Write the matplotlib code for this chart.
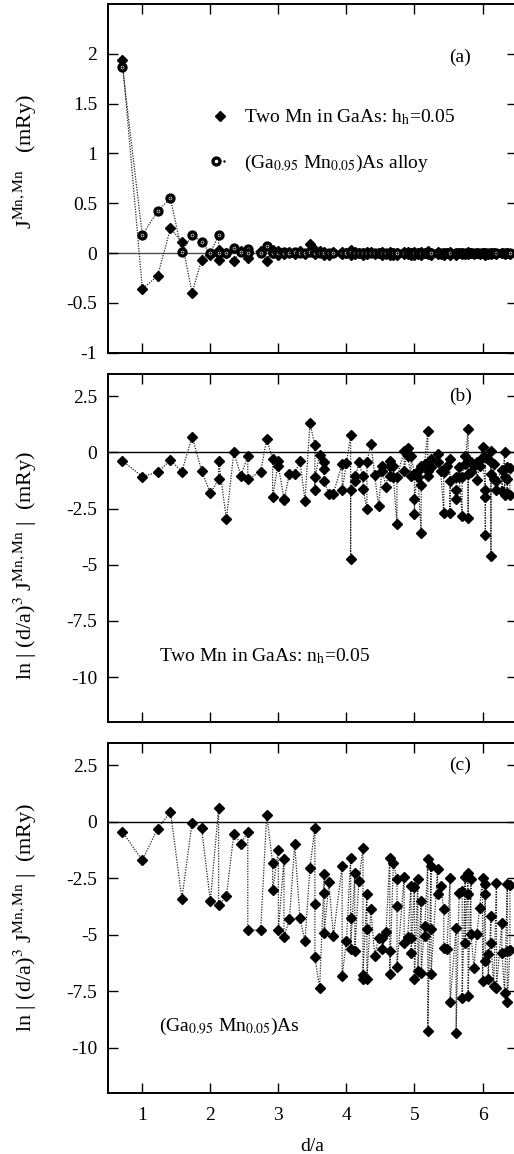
import matplotlib.pyplot as plt
from matplotlib.lines import Line2D
from matplotlib.legend_handler import HandlerTuple

plt.rcParams['font.family'] = ['Liberation Serif', 'DejaVu Serif']
plt.rcParams['mathtext.fontset'] = 'stix'
plt.rcParams['font.size'] = 14

# neighbour shells d/a
shells = [0.707, 1.0, 1.225, 1.414, 1.581, 1.732, 1.871, 2.0, 2.121, 2.236,
          2.345, 2.449, 2.55, 2.739, 2.828, 2.915, 3.0, 3.082, 3.162, 3.24,
          3.317, 3.391, 3.464, 3.536, 3.606, 3.674, 3.742, 3.808, 3.937, 4.0,
          4.062, 4.123, 4.183, 4.243, 4.301, 4.359, 4.416, 4.472, 4.528, 4.583,
          4.637, 4.69, 4.743, 4.848, 4.899, 4.95, 5.0, 5.05, 5.099, 5.148,
          5.196, 5.244, 5.339, 5.385, 5.431, 5.477, 5.523, 5.612, 5.657, 5.701,
          5.745, 5.788, 5.831, 5.874, 5.916, 5.958, 6.0, 6.042, 6.083, 6.124,
          6.164, 6.205, 6.285, 6.325, 6.364, 6.403]

# (a) J^{Mn,Mn} in mRy, one list per shell
j_two_mn = [[1.94], [-0.36], [-0.23], [0.25], [0.11], [-0.40], [-0.07], [-0.02], [-0.07, 0.03], [0.0],
            [-0.08], [0.02], [-0.05, 0.01], [0.02], [-0.08], [0.03, 0.0], [-0.02, 0.02], [0.0, -0.01], [0.01], [-0.01],
            [0.02], [-0.01], [0.09], [0.03, -0.01, 0.01], [0.02], [0.01, -0.015, 0.0], [-0.015], [0.01], [0.01, -0.01], [0.0],
            [0.03, -0.015, 0.0], [0.01, -0.01], [0.005], [-0.015, 0.005], [-0.01, 0.01], [0.015], [-0.01], [0.005], [0.01, -0.015], [-0.01],
            [0.01, -0.015, 0.005], [0.005, -0.015], [0.0, -0.015], [0.01, -0.01], [0.015, -0.01], [0.005, -0.015], [0.01, -0.015], [0.005, -0.01], [0.01, -0.015], [0.005],
            [0.02, -0.01], [0.005, -0.015], [0.01, -0.01], [-0.01], [0.005, -0.015], [0.005], [0.01, -0.015], [0.005, -0.015], [0.0], [0.005, -0.01],
            [-0.01], [0.015, -0.01], [0.005], [-0.01], [0.005], [-0.01], [0.005], [0.005, -0.015], [-0.005], [0.005, -0.01],
            [0.0], [-0.01], [0.005], [-0.01], [0.0], [-0.005]]
j_alloy = [[1.87], [0.18], [0.42], [0.55], [0.01], [0.18], [0.11], [0.0], [0.18, 0.0], [0.0],
           [0.05], [0.01], [0.04, 0.0], [0.0], [0.07], [0.01, 0.0], [0.01, 0.0], [0.01, 0.0], [0.0], [0.01],
           [0.0], [0.0], [0.01], [0.01, 0.0], [0.0], [0.005], [0.0], [0.0], [0.005], [0.0],
           [0.01], [0.0], [0.0], [0.005], [0.0], [0.0], [0.005], [0.0], [0.0], [0.0],
           [0.005], [0.0], [0.0], [0.005], [0.0], [0.0], [0.0], [0.005], [0.0], [0.0],
           [0.005], [0.0], [0.0], [0.0], [0.005], [0.0], [0.0], [0.0], [0.0], [0.0],
           [0.0], [0.005], [0.0], [0.0], [0.0], [0.0], [0.0], [0.0], [0.0], [0.0],
           [0.0], [0.0], [0.0], [0.0], [0.0], [0.0]]

# (b) ln|(d/a)^3 J| two Mn in GaAs
ln_two_mn = [[-0.37], [-1.07], [-0.88], [-0.34], [-0.85], [0.71], [-0.81], [-1.81], [-1.19, -0.38], [-2.97],
             [0.0], [-1.03], [-0.17, -1.19], [-0.86], [0.6], [-0.3, -1.99], [-0.4, -0.62], [-2.05, -2.12], [-0.96], [-0.96],
             [-0.38], [-2.14], [1.3], [0.34, -1.65, -1.1], [-0.12], [-0.41, -0.74, -1.28], [-1.85], [-1.83], [-0.5, -1.69], [-0.49],
             [0.78, -4.74, -1.65], [-1.03, -1.25], [-0.44], [-1.03, -1.62], [-2.53, -0.44], [0.4], [-1.0], [-2.4], [-0.59, -0.81], [-1.54],
             [-0.37, -1.03, -0.59], [-0.59, -1.1], [-3.19, -1.1], [0.07, -0.81], [0.22, -0.15], [-1.03, -0.15], [-0.96, -2.72, -2.06], [-0.81, -1.1], [-3.6, -1.47, -0.59], [-0.51],
             [0.96, -1.03, -0.81], [-0.29, -0.66], [-0.07, -0.44], [-0.81], [-2.69, -0.88], [-0.6], [-0.29, -2.69, -1.25], [-2.06, -1.69, -1.1], [-0.63, -1.1], [-2.84, -1.1],
             [-0.15, -0.5], [1.03, -2.9, -0.96, -0.37], [-0.44, -0.88], [-0.6], [-0.44, -1.22], [-0.6], [0.25, -0.22], [-1.69, -3.68, -1.99, -0.22], [-0.3], [0.07, -4.6, -0.96, -0.44],
             [-0.5, -1.2], [-1.69, -1.25], [-0.8, -1.7], [0.04, -1.91, -1.1], [-0.65, -1.8, -1.2], [-0.7, -1.9]]

# (c) ln|(d/a)^3 J| (Ga,Mn)As alloy
ln_alloy = [[-0.44], [-1.71], [-0.3], [0.44], [-3.41], [-0.04], [-0.27], [-3.51], [0.59, -3.7], [-3.29],
            [-0.53], [-0.97], [-0.46, -4.79], [-4.81], [0.31], [-1.81, -3.04], [-1.24, -4.81], [-1.67, -5.1], [-4.32], [-1.0],
            [-4.28], [-5.28], [-2.04], [-0.27, -3.63, -5.97], [-7.37], [-2.33, -3.14, -4.91], [-2.67], [-5.06], [-1.96, -6.84], [-5.28],
            [-1.59, -4.25, -5.62], [-2.26, -5.72], [-2.63], [-1.18, -6.98, -6.78], [-3.22, -4.76, -6.98], [-3.88], [-5.94], [-5.13], [-5.13, -5.65], [-4.87],
            [-1.59, -5.72, -6.75], [-1.81], [-2.55, -3.73, -6.44], [-2.45, -5.35], [-5.1], [-2.85, -5.13, -5.8], [-2.89, -6.95], [-2.55, -6.6], [-3.51, -6.68], [-4.62, -5.06],
            [-1.67, -9.26], [-1.96, -4.76, -6.75], [-2.11, -3.19], [-2.85], [-3.88, -5.57], [-5.65], [-2.48, -8.0], [-4.72, -9.34], [-3.14], [-3.07, -7.79],
            [-2.45, -5.35], [-2.26, -3.22, -7.72], [-2.55, -4.99], [-6.46], [-4.99], [-3.81], [-2.48, -7.05], [-2.77, -3.22, -6.17], [-5.87, -6.98], [-4.17, -5.35],
            [-7.27], [-2.7, -7.35], [-4.47, -5.8], [-7.57], [-2.77, -5.72, -8.0], [-5.7, -2.8]]


def flat(vals):
    xs, ys = [], []
    for d, v in zip(shells, vals):
        for y in v:
            xs.append(d)
            ys.append(y)
    return xs, ys


dots = (0, (1, 1.1))
ms_d = 5
ms_o, mew_o = 5.0, 2.4
fig = plt.figure(figsize=(5.14, 11.54), dpi=100)
axa = fig.add_axes([0.2107, 0.6944, 0.7942, 0.3022])
axb = fig.add_axes([0.2107, 0.3744, 0.7942, 0.3016])
axc = fig.add_axes([0.2107, 0.0531, 0.7942, 0.3033])

# (a)
x, y = flat(j_two_mn)
axa.plot(x, y, color='0.15', linestyle=dots, linewidth=0.9,
         marker='D', markersize=ms_d, markerfacecolor='k', markeredgecolor='k', zorder=3)
x, y = flat(j_alloy)
axa.plot(x, y, color='0.15', linestyle=dots, linewidth=0.9,
         marker='o', markersize=ms_o, markerfacecolor='white', markeredgecolor='k',
         markeredgewidth=mew_o, zorder=4)
axa.plot(x, y, linestyle='none', marker='.', markersize=1.5, color='k', zorder=5)
axa.axhline(0, color='0.3', linewidth=1, zorder=1)
axa.set_ylim(-1, 2.5)
axa.set_yticks([-1, -0.5, 0, 0.5, 1, 1.5, 2])
axa.set_yticklabels(['-1', '-0.5', '0', '0.5', '1', '1.5', '2'])
axa.set_ylabel(r'J$^{\mathrm{Mn,Mn}}$   (mRy)', fontsize=16)
axa.yaxis.set_label_coords(-0.17, 0.55)
axa.text(0.862, 0.848, '(a)', transform=axa.transAxes, ha='center', va='center')

h1 = Line2D([], [], marker='D', linestyle='none', color='k', markersize=ms_d)
h2 = Line2D([], [], marker='o', linestyle='none', markerfacecolor='white',
            markeredgecolor='k', markeredgewidth=mew_o, markersize=ms_o)
h3 = Line2D([], [], marker='.', linestyle='none', color='k', markersize=1.5)
axa.legend([h1, (h2, h3)],
           [r'Two Mn in GaAs: h$_{\mathrm{h}}$=0.05', r'(Ga$_{0.95}$ Mn$_{0.05}$)As alloy'],
           handler_map={tuple: HandlerTuple(ndivide=None)},
           loc='center left', bbox_to_anchor=(0.255, 0.6085), frameon=False,
           borderpad=0, borderaxespad=0, handlelength=0.8, handletextpad=0.85,
           labelspacing=1.3, fontsize=14)

# (b) and (c)
for ax, vals, tag, note, ly in [(axb, ln_two_mn, '(b)', r'Two Mn in GaAs: n$_{\mathrm{h}}$=0.05', 0.45),
                                (axc, ln_alloy, '(c)', r'(Ga$_{0.95}$ Mn$_{0.05}$)As', 0.5)]:
    x, y = flat(vals)
    ax.plot(x, y, color='0.15', linestyle=dots, linewidth=0.9,
            marker='D', markersize=ms_d, markerfacecolor='k', markeredgecolor='k', zorder=3)
    ax.axhline(0, color='k', linewidth=1, zorder=1)
    ax.set_ylim(-12, 3.5)
    ax.set_yticks([-10, -7.5, -5, -2.5, 0, 2.5])
    ax.set_yticklabels(['-10', '-7.5', '-5', '-2.5', '0', '2.5'])
    ax.set_ylabel(r'ln | (d/a)$^3$ J$^{\mathrm{Mn,Mn}}$ |  (mRy)', fontsize=16)
    ax.yaxis.set_label_coords(-0.17, ly)
    ax.text(0.862, 0.935, tag, transform=ax.transAxes, ha='center', va='center')
    ax.text(0.125, 0.19, note, transform=ax.transAxes, ha='left', va='center')

for ax in [axa, axb, axc]:
    ax.set_xlim(0.5, 6.5)
    ax.set_xticks([1, 2, 3, 4, 5, 6])
    ax.tick_params(direction='in', top=True, right=True, length=7, width=1,
                   labelsize=14)
    ax.tick_params(axis='y', pad=8)
    ax.tick_params(axis='x', pad=10)
    for s in ax.spines.values():
        s.set_linewidth(1.4)
axa.tick_params(labelbottom=False)
axb.tick_params(labelbottom=False)
axc.set_xlabel('d/a', labelpad=10)

fig.savefig('out.png', dpi=100)
